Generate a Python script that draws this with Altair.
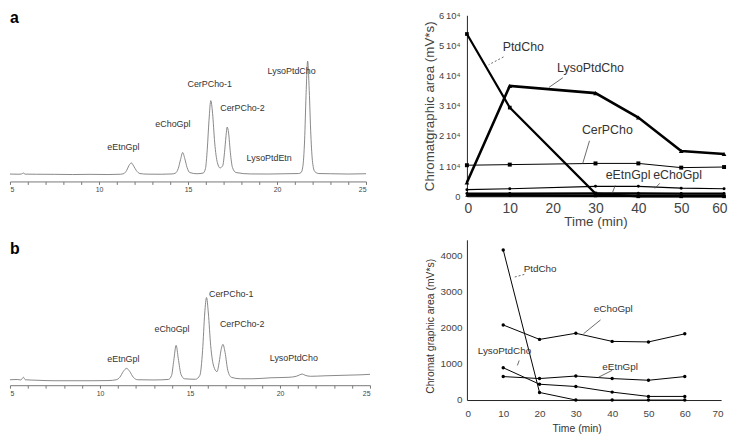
import altair as alt
import pandas as pd

FONT = "Liberation Sans"

# ---------------- Panel a : chromatogram ----------------
chromA_time = [5.0, 5.5, 5.65, 5.75, 5.85, 6.5, 7.5, 8.5, 9.5, 10.5, 11.2, 11.4, 11.55, 11.68, 11.82,
               11.95, 12.1, 12.3, 12.7, 13.5, 14.1, 14.3, 14.45, 14.58, 14.7, 14.82, 14.95, 15.1,
               15.5, 15.85, 15.98, 16.08, 16.18, 16.28, 16.38, 16.5, 16.65, 16.8, 16.95, 17.05,
               17.13, 17.2, 17.28, 17.38, 17.5, 17.7, 18.5, 19.5, 20.5, 21.2, 21.35, 21.45, 21.55,
               21.63, 21.72, 21.81, 21.9, 22.0, 22.12, 22.35, 23.0, 24.0, 25.0]
chromA_signal = [0.5, 0.3, 0.6, 1.5, 0.4, 0.3, 0.2, 0.0, 0.2, 0.0, 0.3, 1.0, 4.0, 9.0, 11.7,
                 8.5, 4.0, 1.0, 0.4, 0.3, 0.6, 1.5, 6.0, 15.0, 22.3, 16.0, 7.0, 2.0,
                 0.8, 1.5, 6.0, 25.0, 55.0, 74.7, 62.0, 32.0, 12.0, 6.7, 9.0, 22.0,
                 38.0, 48.0, 42.0, 22.0, 7.0, 2.0, 0.6, 0.5, 0.8, 1.0, 2.0, 8.0, 35.0,
                 80.0, 114.7, 85.0, 40.0, 12.0, 3.0, 1.0, 0.8, 0.5, 0.8]
chromA_names = ["eEtnGpl", "eChoGpl", "CerPCho-1", "CerPCho-2", "LysoPtdEtn", "LysoPtdCho"]
chromA_name_time = [11.37, 14.15, 16.22, 18.06, 19.56, 20.82]
chromA_name_signal = [27.3, 51.3, 91.3, 67.3, 17.0, 104.7]

# ---------------- Panel b : chromatogram ----------------
chromB_time = [5.0, 5.4, 5.6, 5.75, 5.85, 6.5, 7.5, 8.5, 9.5, 10.5, 10.9, 11.1, 11.3, 11.48, 11.65,
               11.85, 12.1, 13.0, 13.8, 13.98, 14.1, 14.23, 14.35, 14.5, 14.7, 15.3, 15.55, 15.7,
               15.82, 15.92, 16.02, 16.15, 16.32, 16.5, 16.62, 16.72, 16.83, 16.95, 17.1, 17.3,
               17.8, 18.5, 19.5, 20.5, 20.9, 21.1, 21.23, 21.4, 21.7, 22.5, 23.5, 24.5, 25.0]
chromB_signal = [0.5, 0.8, 0.3, 3.0, 0.5, 0.0, -0.5, -0.5, -0.5, -0.3, 0.5, 3.0, 9.0, 12.0, 9.0,
                 3.0, 0.5, 0.3, 0.8, 5.0, 20.0, 35.3, 22.0, 6.0, 1.5, 1.0, 5.0, 30.0,
                 68.0, 83.7, 68.0, 35.0, 14.0, 8.7, 18.0, 30.0, 36.3, 28.0, 10.0, 3.0,
                 1.5, 1.5, 2.5, 3.0, 4.0, 5.5, 6.3, 5.0, 4.0, 4.5, 5.0, 5.5, 6.0]
chromB_names = ["eEtnGpl", "eChoGpl", "CerPCho-1", "CerPCho-2", "LysoPtdCho"]
chromB_name_time = [11.3, 14.0, 17.29, 17.9, 20.77]
chromB_name_signal = [21.3, 52.0, 87.0, 57.0, 22.0]

# ---------------- Panel a : time course (x 10^4 mV*s) ----------------
trendA_time = [0, 10, 30, 40, 50, 60]
trendA_ticks = [0, 10, 20, 30, 40, 50, 60]
trendA_series = ["PtdCho", "LysoPtdCho", "CerPCho", "eChoGpl", "eEtnGpl", "LysoPtdEtn"]
trendA_PtdCho = [5.38, 2.94, 0.09, 0.0, 0.0, 0.0]
trendA_LysoPtdCho = [0.46, 3.66, 3.42, 2.61, 1.50, 1.40]
trendA_CerPCho = [1.03, 1.05, 1.09, 1.09, 0.95, 0.97]
trendA_eChoGpl = [0.22, 0.25, 0.33, 0.33, 0.27, 0.25]
trendA_eEtnGpl = [0.09, 0.09, 0.10, 0.10, 0.09, 0.09]
trendA_LysoPtdEtn = [0.03, 0.03, 0.02, 0.02, 0.02, 0.02]
trendA_width = [2.2, 2.6, 1.0, 1.2, 2.0, 2.8]
trendA_shape = ["square", "triangle-up", "square", "circle", "circle", "triangle-up"]
trendA_size = [14, 22, 16, 9, 9, 12]

trendA_note_text = ["PtdCho", "LysoPtdCho", "CerPCho", "eEtnGpl", "eChoGpl"]
trendA_note_time = [13.15, 28.85, 32.77, 37.6, 49.15]
trendA_note_value = [4.95, 4.26, 2.20, 0.72, 0.72]
trendA_lead_t1 = [8.54, 22.38, 28.6, 34.6, 45.0]
trendA_lead_t2 = [5.08, 19.15, 27.0, 33.9, 43.85]
trendA_lead_v1 = [4.62, 3.93, 1.84, 0.36, 0.43]
trendA_lead_v2 = [4.36, 3.61, 1.08, 0.10, 0.26]
trendA_lead_dashed = [True, False, False, False, False]

# ---------------- Panel b : time course (mV*s) ----------------
trendB_time = [10, 20, 30, 40, 50, 60]
trendB_ticks = [0, 10, 20, 30, 40, 50, 60, 70]
trendB_series = ["PtdCho", "eChoGpl", "eEtnGpl", "LysoPtdCho"]
trendB_PtdCho = [4160, 210, 0, 0, 0, 0]
trendB_eChoGpl = [2080, 1680, 1850, 1625, 1610, 1835]
trendB_eEtnGpl = [650, 595, 665, 595, 548, 650]
trendB_LysoPtdCho = [895, 438, 375, 220, 100, 100]

trendB_note_text = ["PtdCho", "eChoGpl", "LysoPtdCho", "eEtnGpl"]
trendB_note_time = [20.16, 40.3, 10.35, 42.2]
trendB_note_value = [3618, 2522, 1370, 904]
trendB_lead_t1 = [15.8, 36.8, 14.4, 40.0]
trendB_lead_t2 = [12.8, 32.1, 13.9, 36.2]
trendB_lead_v1 = [3481, 2220, 1096, 822]
trendB_lead_v2 = [3399, 1836, 959, 630]
trendB_lead_dashed = [True, False, False, False]

# =========================================================
def chrom_panel(times, signals, names, ntimes, nsignals, letter, letter_signal, width, height, ydom):
    xs = alt.Scale(domain=[5, 25], nice=False, zero=False)
    ys = alt.Scale(domain=ydom, nice=False, zero=False)
    xaxis = alt.Axis(values=list(range(5, 26)), tickCount=100, format="d",
                     labelExpr="datum.value % 5 == 0 ? datum.label : ''",
                     labelOverlap=False, labelFlush=True, labelFontSize=7, labelColor="#444",
                     labelPadding=1, tickSize=3, tickColor="#777", domainColor="#777",
                     grid=False, title=None)
    trace = pd.DataFrame({"t": times, "v": signals})
    labels = pd.DataFrame({"t": ntimes, "v": nsignals, "name": names})
    let = pd.DataFrame({"t": [5.0], "v": [letter_signal], "name": [letter]})
    line = alt.Chart(trace).mark_line(interpolate="monotone", color="#7a7a7a", strokeWidth=0.9).encode(
        x=alt.X("t:Q", scale=xs, axis=xaxis),
        y=alt.Y("v:Q", scale=ys, axis=None),
    )
    txt = alt.Chart(labels).mark_text(font=FONT, fontSize=9, color="#333").encode(
        x=alt.X("t:Q", scale=xs), y=alt.Y("v:Q", scale=ys), text="name:N")
    lt = alt.Chart(let).mark_text(font=FONT, fontSize=16, fontWeight="bold", color="#000",
                                  align="left", baseline="alphabetic").encode(
        x=alt.X("t:Q", scale=xs), y=alt.Y("v:Q", scale=ys), text="name:N")
    return alt.layer(line, txt, lt).properties(width=width, height=height)


def series_frame(times, names, values_list, extra=None):
    rows = []
    for i, (n, vals) in enumerate(zip(names, values_list)):
        for t, v in zip(times, vals):
            r = {"t": t, "v": v, "series": n, "order": i}
            if extra:
                for k, arr in extra.items():
                    r[k] = arr[i]
            rows.append(r)
    return pd.DataFrame(rows)


# ---- trend a ----
hA = 183
xsA = alt.Scale(domain=[0, 60], nice=False)
ysA = alt.Scale(domain=[0, 6], nice=False)
dfA = series_frame(trendA_time, trendA_series,
                   [trendA_PtdCho, trendA_LysoPtdCho, trendA_CerPCho, trendA_eChoGpl,
                    trendA_eEtnGpl, trendA_LysoPtdEtn],
                   {"w": trendA_width, "shape": trendA_shape, "size": trendA_size})
xaxisA = alt.Axis(values=trendA_ticks, tickCount=100, format="d", labelFontSize=14, labelColor="#444",
                  labelFont=FONT, labelOverlap=False, labelFlush=True, labelFlushOffset=3, ticks=False,
                  domainColor="#222", labelPadding=5,
                  title="Time (min)", titleFontSize=13.5, titleFontWeight="normal", titleColor="#444",
                  titleFont=FONT, titleY=26, titleBaseline="middle", grid=False)
yaxisA = alt.Axis(values=[0, 1, 2, 3, 4, 5, 6], tickCount=100,
                  labelExpr="datum.value == 0 ? '0' : datum.value + '\u200910\u2074'",
                  labelOverlap=False, labelFontSize=9.5, labelFont=FONT,
                  labelColor="#444", labelPadding=7, ticks=False, domainColor="#222",
                  title="Chromatgraphic area (mV*s)", titleFontSize=13.5, titleFontWeight="normal",
                  titleColor="#444", titleFont=FONT, titleX=-38, titleY=hA / 2,
                  titleBaseline="middle", titleAngle=-90, titleAlign="center", grid=False)
linesA = alt.Chart(dfA).mark_line(color="black").encode(
    x=alt.X("t:Q", scale=xsA, axis=xaxisA),
    y=alt.Y("v:Q", scale=ysA, axis=yaxisA),
    detail="series:N",
    strokeWidth=alt.StrokeWidth("w:Q", scale=None),
)
ptsA = alt.Chart(dfA).mark_point(filled=True, color="black", opacity=1).encode(
    x=alt.X("t:Q", scale=xsA), y=alt.Y("v:Q", scale=ysA),
    shape=alt.Shape("shape:N", scale=None),
    size=alt.Size("size:Q", scale=None),
)
notesA = pd.DataFrame({"t": trendA_note_time, "v": trendA_note_value, "name": trendA_note_text})
leadA = pd.DataFrame({"t": trendA_lead_t1, "t2": trendA_lead_t2, "v": trendA_lead_v1,
                      "v2": trendA_lead_v2, "dashed": trendA_lead_dashed})
txtA = alt.Chart(notesA).mark_text(font=FONT, fontSize=12.5, color="#333").encode(
    x=alt.X("t:Q", scale=xsA), y=alt.Y("v:Q", scale=ysA), text="name:N")
ruleA1 = alt.Chart(leadA[leadA.dashed]).mark_rule(color="#444", strokeWidth=0.8, strokeDash=[2, 2]).encode(
    x=alt.X("t:Q", scale=xsA), x2="t2:Q", y=alt.Y("v:Q", scale=ysA), y2="v2:Q")
ruleA2 = alt.Chart(leadA[~leadA.dashed]).mark_rule(color="#444", strokeWidth=0.8).encode(
    x=alt.X("t:Q", scale=xsA), x2="t2:Q", y=alt.Y("v:Q", scale=ysA), y2="v2:Q")
trendA = alt.layer(linesA, ptsA, ruleA1, ruleA2, txtA).properties(width=260, height=hA)

# ---- trend b ----
hB = 162
xsB = alt.Scale(domain=[0, 70], nice=False)
ysB = alt.Scale(domain=[0, 4440], nice=False)
dfB = series_frame(trendB_time, trendB_series,
                   [trendB_PtdCho, trendB_eChoGpl, trendB_eEtnGpl, trendB_LysoPtdCho])
xaxisB = alt.Axis(values=trendB_ticks, tickCount=100, format="d", labelFontSize=10, labelColor="#444",
                  labelFont=FONT, labelOverlap=False, labelFlush=True, labelFlushOffset=2,
                  ticks=False, domainColor="#222", labelPadding=9,
                  title="Time (min)", titleFontSize=10.5, titleFontWeight="normal", titleColor="#333",
                  titleFont=FONT, titleX=111, titleY=29, titleBaseline="middle", grid=False)
yaxisB = alt.Axis(values=[0, 1000, 2000, 3000, 4000], tickCount=100, format="d", labelOverlap=False,
                  labelFontSize=10, labelColor="#444",
                  labelFont=FONT, labelPadding=5, ticks=False, domainColor="#222",
                  title="Chromat graphic area (mV*s)", titleFontSize=10.5, titleFontWeight="normal",
                  titleColor="#333", titleFont=FONT, titleX=-37, titleY=hB / 2 + 6,
                  titleBaseline="middle", titleAngle=-90, titleAlign="center", grid=False)
linesB = alt.Chart(dfB).mark_line(color="black", strokeWidth=1).encode(
    x=alt.X("t:Q", scale=xsB, axis=xaxisB),
    y=alt.Y("v:Q", scale=ysB, axis=yaxisB),
    detail="series:N",
)
ptsB = alt.Chart(dfB).mark_circle(color="black", size=12, opacity=1).encode(
    x=alt.X("t:Q", scale=xsB), y=alt.Y("v:Q", scale=ysB))
notesB = pd.DataFrame({"t": trendB_note_time, "v": trendB_note_value, "name": trendB_note_text})
leadB = pd.DataFrame({"t": trendB_lead_t1, "t2": trendB_lead_t2, "v": trendB_lead_v1,
                      "v2": trendB_lead_v2, "dashed": trendB_lead_dashed})
txtB = alt.Chart(notesB).mark_text(font=FONT, fontSize=10, color="#333").encode(
    x=alt.X("t:Q", scale=xsB), y=alt.Y("v:Q", scale=ysB), text="name:N")
ruleB1 = alt.Chart(leadB[leadB.dashed]).mark_rule(color="#444", strokeWidth=0.8, strokeDash=[2, 2]).encode(
    x=alt.X("t:Q", scale=xsB), x2="t2:Q", y=alt.Y("v:Q", scale=ysB), y2="v2:Q")
ruleB2 = alt.Chart(leadB[~leadB.dashed]).mark_rule(color="#444", strokeWidth=0.8).encode(
    x=alt.X("t:Q", scale=xsB), x2="t2:Q", y=alt.Y("v:Q", scale=ysB), y2="v2:Q")
trendB = alt.layer(linesB, ptsB, ruleB1, ruleB2, txtB).properties(width=257, height=hB)

chromA = chrom_panel(chromA_time, chromA_signal, chromA_names, chromA_name_time, chromA_name_signal,
                     "a", 153, 360, 168, [-7, 161])
chromB = chrom_panel(chromB_time, chromB_signal, chromB_names, chromB_name_time, chromB_name_signal,
                     "b", 128, 364, 147, [-5, 142])

chart = alt.concat(chromA, trendA, chromB, trendB, columns=2,
                   spacing=alt.RowColnumber(row=44, column=98), bounds="flush").properties(
    padding=0, background="white"
).configure_view(stroke=None).configure_axis(grid=False)

chart.save("out.html", embed_options={"renderer": "svg", "actions": False})
